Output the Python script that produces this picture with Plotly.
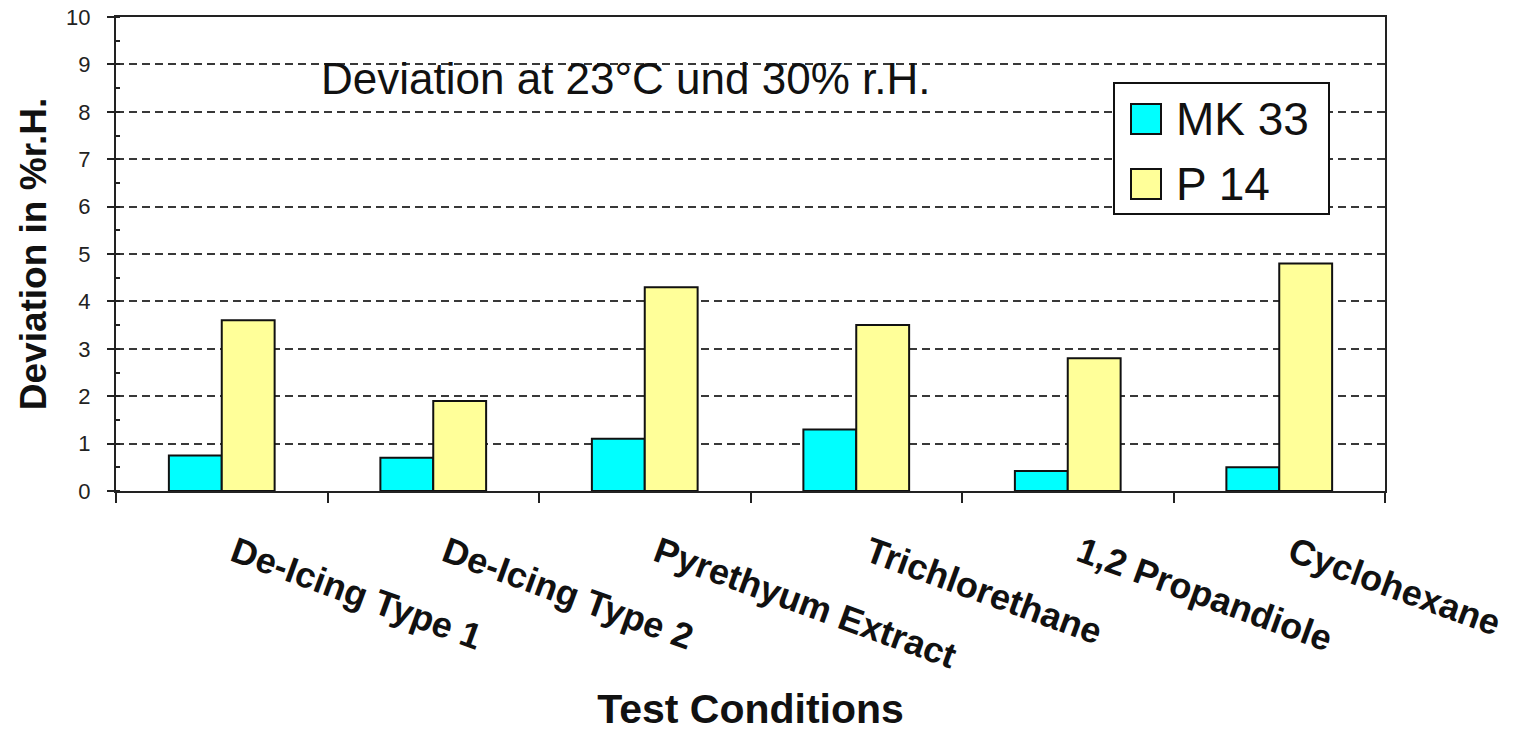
import plotly.graph_objects as go

categories = ["De-Icing Type 1", "De-Icing Type 2", "Pyrethyum Extract",
              "Trichlorethane", "1,2 Propandiole", "Cyclohexane"]
mk33 = [0.75, 0.7, 1.1, 1.3, 0.42, 0.5]
p14 = [3.6, 1.9, 4.3, 3.5, 2.8, 4.8]
series_names = ["MK 33", "P 14"]
series_colors = ["#00FFFF", "#FFFF99"]
y_ticks = list(range(0, 11))

FONT = "Liberation Sans, Arial, sans-serif"
INK = "#111111"

W, H = 1521, 732
L, R, T, B = 116, 136, 17, 241
PX0, PX1, PY0, PY1 = L, W - R, T, H - B


def px(xp):
    return (xp - PX0) / (PX1 - PX0)


def py(yp):
    return (PY1 - yp) / (PY1 - PY0)


fig = go.Figure()
for name, vals, col in zip(series_names, [mk33, p14], series_colors):
    fig.add_trace(go.Bar(x=categories, y=vals, name=name, showlegend=False,
                         marker=dict(color=col, line=dict(color=INK, width=2))))

# custom legend (box, swatches, labels) to match the large swatches of the original
shapes = [dict(type="rect", xref="paper", yref="paper",
               x0=px(1114), x1=px(1329), y0=py(214), y1=py(83),
               line=dict(color=INK, width=2), fillcolor="white", layer="above")]
annotations = []
row_centers = [119, 184]
for name, col, yc in zip(series_names, series_colors, row_centers):
    shapes.append(dict(type="rect", xref="paper", yref="paper",
                       x0=px(1131), x1=px(1161), y0=py(yc + 15), y1=py(yc - 15),
                       line=dict(color=INK, width=2), fillcolor=col, layer="above"))
    annotations.append(dict(text=name, xref="paper", yref="paper", x=px(1174), y=py(yc),
                            xanchor="left", yanchor="middle", showarrow=False,
                            font=dict(size=46, family=FONT, color=INK)))

annotations.append(dict(text="Deviation at 23°C und 30% r.H.", xref="paper", yref="y",
                        x=px(626), y=8.71, showarrow=False, xanchor="center", yanchor="middle",
                        font=dict(size=44, family=FONT, color=INK)))

fig.update_layout(
    width=W, height=H,
    margin=dict(l=L, r=R, t=T, b=B, pad=0),
    paper_bgcolor="white", plot_bgcolor="white",
    barmode="group", bargap=0.5, bargroupgap=0,
    font=dict(family=FONT, color=INK),
    showlegend=False,
    shapes=shapes,
    annotations=annotations,
)

fig.update_xaxes(
    type="category", tickson="boundaries", ticks="outside", ticklen=10, tickwidth=2,
    tickcolor="#222222", showline=True, linecolor="#222222", linewidth=2, mirror=True,
    tickangle=20, showgrid=False, automargin=False,
    ticklabelstandoff=25, ticklabelshift=13,
    tickfont=dict(size=36, family=FONT, color=INK, weight="bold"),
    title=dict(text="<b>Test Conditions</b>", font=dict(size=41, family=FONT, color=INK),
               standoff=23),
)
fig.update_yaxes(
    range=[0, 10], tickvals=y_ticks, ticks="outside", ticklen=7, tickwidth=2,
    tickcolor="#222222", showline=True, linecolor="#222222", linewidth=2, mirror=True,
    showgrid=True, gridcolor="#383838", gridwidth=2, griddash="8px,5px", zeroline=False,
    automargin=False, ticklabelstandoff=12, ticklabeloverflow="allow",
    minor=dict(dtick=0.5, ticks="inside", ticklen=4, tickwidth=2, tickcolor="#222222",
               showgrid=False),
    tickfont=dict(size=22, family=FONT, color="#222222"),
    title=dict(text="<b>Deviation in %r.H.</b>", font=dict(size=37, family=FONT, color=INK),
               standoff=8),
)

fig.write_html("out.html", config={"displayModeBar": False},
               post_script="document.body.style.margin='0';")
